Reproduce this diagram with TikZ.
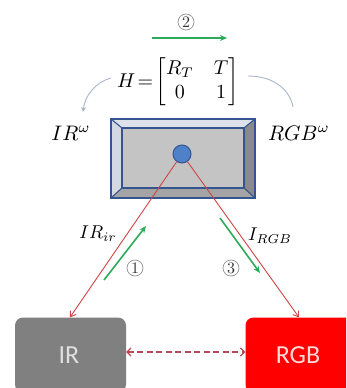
\documentclass[tikz,border=0pt]{standalone}
\usepackage{amsmath}
\usepackage{graphicx}
\usepackage{fontspec}
\newfontfamily\boxfont{Carlito}
\usetikzlibrary{arrows.meta}
\definecolor{grn}{HTML}{2EAA5A}
\definecolor{redl}{HTML}{D04545}
\definecolor{dashc}{HTML}{B5475A}
\definecolor{frame}{HTML}{34558F}
\definecolor{curvec}{HTML}{A8B6CC}
\definecolor{dotc}{HTML}{4F81C9}
\definecolor{facetop}{HTML}{DCE1EA}
\definecolor{faceleft}{HTML}{D3D8E2}
\definecolor{faceright}{HTML}{8A8A8A}
\definecolor{facebot}{HTML}{A4A4A4}
\definecolor{facemid}{HTML}{C4C4C4}
\tikzset{
  greenarrow/.style={draw=grn, line width=1.6pt, -{Stealth[length=7pt,width=6pt]}},
  redline/.style={draw=redl, line width=0.9pt, -{Straight Barb[length=5pt,width=7pt]}},
  curvearrow/.style={draw=curvec, line width=0.9pt},
  circnum/.style={circle, draw=gray!85, line width=0.7pt, minimum size=16pt, inner sep=0pt, text=black!80},
  mathlabel/.style={font=\fontsize{10}{12}\selectfont, inner sep=0pt},
  devbox/.style={rectangle, rounded corners=8pt, minimum width=111pt, minimum height=75pt, inner sep=0pt, font=\boxfont\fontsize{26}{28}\selectfont},
}
\begin{document}
\begin{tikzpicture}[x=1pt,y=-1pt]
\clip (0,0) rectangle (346,388);
\fill[white] (0,0) rectangle (346,388);

% step 2 arrow
\node[circnum] (n2) at (186,22) {\scalebox{1.6}{2}};
\coordinate (g2a) at (152,38);
\coordinate (g2b) at (227,38);
\draw[greenarrow] (g2a) -- (g2b);

% homography
\node[mathlabel] (H) at (178,82) {\scalebox{2.0}{$H\!=\!\begin{bmatrix} R_T & T\\ 0 & 1\end{bmatrix}$}};

% curved arrows
\coordinate (cl1) at (111,78);
\coordinate (cl2) at (83,112);
\coordinate (cr1) at (248,76);
\coordinate (cr2) at (293,107);
\draw[curvearrow, -{Stealth[length=5pt,width=5pt]}] (cl1) .. controls (96,82) and (85,95) .. (cl2);
\draw[curvearrow] (cr1) .. controls (274,76) and (290,90) .. (cr2);

% labels
\node[mathlabel] (irw) at (71,133) {\scalebox{2.1}{$IR^{\omega}$}};
\node[mathlabel] (rgbw) at (299,133) {\scalebox{2.1}{$RGB^{\omega}$}};

% bevelled box
\node[rectangle, minimum width=144pt, minimum height=79pt, inner sep=0pt] (cam) at (183,158.5) {};
\fill[facetop] (111,119) -- (255,119) -- (244,128) -- (122,128) -- cycle;
\fill[faceleft] (111,119) -- (122,128) -- (122,188) -- (111,198) -- cycle;
\fill[faceright] (255,119) -- (255,198) -- (244,188) -- (244,128) -- cycle;
\fill[facebot] (111,198) -- (255,198) -- (244,188) -- (122,188) -- cycle;
\fill[facemid] (122,128) rectangle (244,188);
\draw[frame, line width=1.1pt] (122,128) rectangle (244,188);
\draw[frame, line width=1.1pt] (111,119) -- (122,128) (255,119) -- (244,128) (111,198) -- (122,188) (255,198) -- (244,188);
\draw[frame, line width=2pt] (cam.north west) rectangle (cam.south east);
\node[circle, fill=dotc, draw=frame, line width=1pt, minimum size=18pt, inner sep=0pt] (c) at (182,154) {};

% device boxes
\node[devbox, fill=black!50, text=black!12] (ir) at (70.5,355) {\hspace*{-3pt}IR};
\node[devbox, fill=red, text=red!15] (rgb) at (301,355) {\hspace*{-6pt}RGB};

% red connectors
\draw[redline] (c) -- ([xshift=-0.5pt]ir.north);
\draw[redline] (c) -- ([xshift=-2pt]rgb.north);

% dashed double arrow
\draw[draw=dashc, line width=1.2pt, dash pattern=on 6pt off 3.5pt, {Straight Barb[length=4pt,width=8pt]}-{Straight Barb[length=4pt,width=8pt]}] ([yshift=3pt]ir.east) -- ([yshift=3pt]rgb.west);

% step 1 and step 3
\coordinate (g1a) at (104,280);
\coordinate (g1b) at (146,226);
\draw[greenarrow] (g1a) -- (g1b);
\coordinate (g3a) at (220,218);
\coordinate (g3b) at (260,273);
\draw[greenarrow] (g3a) -- (g3b);
\node[circnum] (n1) at (135,268) {\scalebox{1.6}{1}};
\node[circnum] (n3) at (231,268) {\scalebox{1.6}{3}};

\node[mathlabel] (lir) at (98,234) {\scalebox{1.85}{$IR_{ir}$}};
\node[mathlabel] (lrgb) at (270,236) {\scalebox{1.85}{$I_{RGB}$}};
\end{tikzpicture}
\end{document}
